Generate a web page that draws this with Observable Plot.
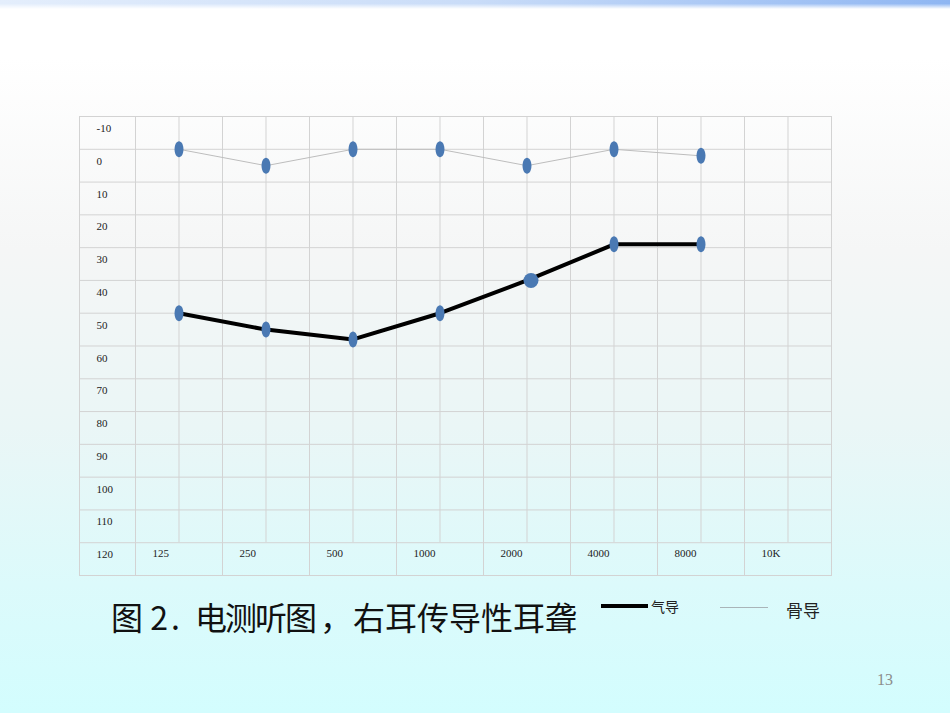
<!DOCTYPE html>
<html>
<head>
<meta charset="utf-8">
<script src="https://cdn.jsdelivr.net/npm/d3@7"></script>
<script src="https://cdn.jsdelivr.net/npm/@observablehq/plot@0.6"></script>
<style>
  html, body { margin: 0; padding: 0; }
  body {
    width: 950px; height: 713px; position: relative; overflow: hidden;
    background: linear-gradient(to bottom, #ffffff 0%, #ffffff 8%, #f5f6f6 35%, #eaf6f6 60%, #dcfafb 82%, #d3fdfe 100%);
    font-family: "Noto Sans CJK SC", "Noto Sans", sans-serif;
  }
  #topbar {
    position: absolute; left: 0; top: 0; width: 950px; height: 9px;
    background: linear-gradient(to right, #e4eefc 0%, #c9dcf8 50%, #8fb6f2 100%);
    -webkit-mask-image: linear-gradient(to bottom, #000 40%, transparent 100%);
  }
  #chart { position: absolute; left: 79px; top: 116px; }
  #chart svg { overflow: visible; background: transparent; }
  .title {
    position: absolute; top: 593px; font-size: 32px; color: #111;
    font-family: "Noto Sans CJK SC", sans-serif; white-space: nowrap;
  }
  .legline { position: absolute; }
  .legtext { position: absolute; color: #222; font-family: "Noto Sans CJK SC", sans-serif; white-space: nowrap; }
  #pagenum { position: absolute; left: 877px; top: 671px; font-size: 16px; color: #8c8c8c; font-family: "Liberation Serif", serif; }
</style>
</head>
<body>
<div id="topbar"></div>
<div id="chart"></div>
<div class="title" style="left:111px;">图 2<span style="margin-left:3px">.</span></div>
<div class="title" style="left:195px; letter-spacing:-2px;">电测听图</div>
<div class="title" style="left:320px;">，</div>
<div class="title" style="left:353px;">右耳传导性耳聋</div>
<div class="legline" style="left:601px; top:604px; width:47px; height:4px; background:#000;"></div>
<div class="legtext" style="left:651px; top:596px; font-size:14px;">气导</div>
<div class="legline" style="left:720px; top:607px; width:48px; height:1px; background:#a9b4b8;"></div>
<div class="legtext" style="left:786px; top:597px; font-size:17px;">骨导</div>
<div id="pagenum">13</div>
<script>
// ---- data ----
const freqLabels = ["125", "250", "500", "1000", "2000", "4000", "8000", "10K"];
const airDb  = [50, 55, 58, 50, 40, 29, 29];   // 气导 (air conduction), 125..8000 Hz
const boneDb = [0, 5, 0, 0, 5, 0, 2];          // 骨导 (bone conduction), 125..8000 Hz
const yTicks = [-10, 0, 10, 20, 30, 40, 50, 60, 70, 80, 90, 100, 110, 120];

// ---- derived tables ----
const air  = airDb.map((db, k) => ({i: k + 1, db, big: k === 4}));
const bone = boneDb.map((db, k) => ({i: k + 1, db}));
const cellEdges = freqLabels.map((_, k) => k + 0.5).concat([freqLabels.length + 0.5]);
const mainVerticals = cellEdges.concat(freqLabels.map((_, k) => k + 1));
const rowLines = yTicks.concat([130]);

const ellipse = {
  draw(ctx, size) {
    const r = Math.sqrt(size / Math.PI);
    const rx = r * 0.56, ry = r, k = 0.5523;
    ctx.moveTo(0, -ry);
    ctx.bezierCurveTo(k * rx, -ry, rx, -k * ry, rx, 0);
    ctx.bezierCurveTo(rx, k * ry, k * rx, ry, 0, ry);
    ctx.bezierCurveTo(-k * rx, ry, -rx, k * ry, -rx, 0);
    ctx.bezierCurveTo(-rx, -k * ry, -k * rx, -ry, 0, -ry);
    ctx.closePath();
  }
};

const gridColor = "#d3d3d3";
const dotColor = "#4a79b3";
const labelFont = "Liberation Serif, Times New Roman, serif";

const chart = Plot.plot({
  width: 752,
  height: 459,
  margin: 0,
  x: {domain: [0.5 - 56 / 87, freqLabels.length + 0.5], axis: null},
  y: {domain: [-10, 130], reverse: true, axis: null},
  marks: [
    Plot.ruleY(rowLines, {y: d => d, stroke: gridColor, strokeWidth: 1}),
    Plot.ruleX(mainVerticals, {x: d => d, y1: -10, y2: 120, stroke: gridColor, strokeWidth: 1}),
    Plot.ruleX(cellEdges, {x: d => d, y1: 120, y2: 130, stroke: gridColor, strokeWidth: 1}),
    Plot.frame({stroke: gridColor}),
    Plot.text(yTicks, {frameAnchor: "left", y: d => d, text: d => String(d), textAnchor: "start",
      dx: 17, dy: 12, fontSize: 11, fontFamily: labelFont, fill: "#222"}),
    Plot.text(freqLabels, {x: (d, k) => k + 0.5, y: 120, text: d => d, textAnchor: "start",
      dx: 17, dy: 11, fontSize: 11, fontFamily: labelFont, fill: "#222"}),
    Plot.line(bone, {x: "i", y: "db", stroke: "#bdbdbd", strokeWidth: 1}),
    Plot.line(air, {x: "i", y: "db", stroke: "#000", strokeWidth: 4}),
    Plot.dot(bone, {x: "i", y: "db", symbol: ellipse, r: 8, fill: dotColor, stroke: "none"}),
    Plot.dot(air.filter(d => !d.big), {x: "i", y: "db", symbol: ellipse, r: 8, fill: dotColor, stroke: "none"}),
    Plot.dot(air.filter(d => d.big), {x: "i", y: "db", r: 7.5, dx: 4, fill: dotColor, stroke: "none"})
  ]
});
document.getElementById("chart").appendChild(chart);
</script>
</body>
</html>
